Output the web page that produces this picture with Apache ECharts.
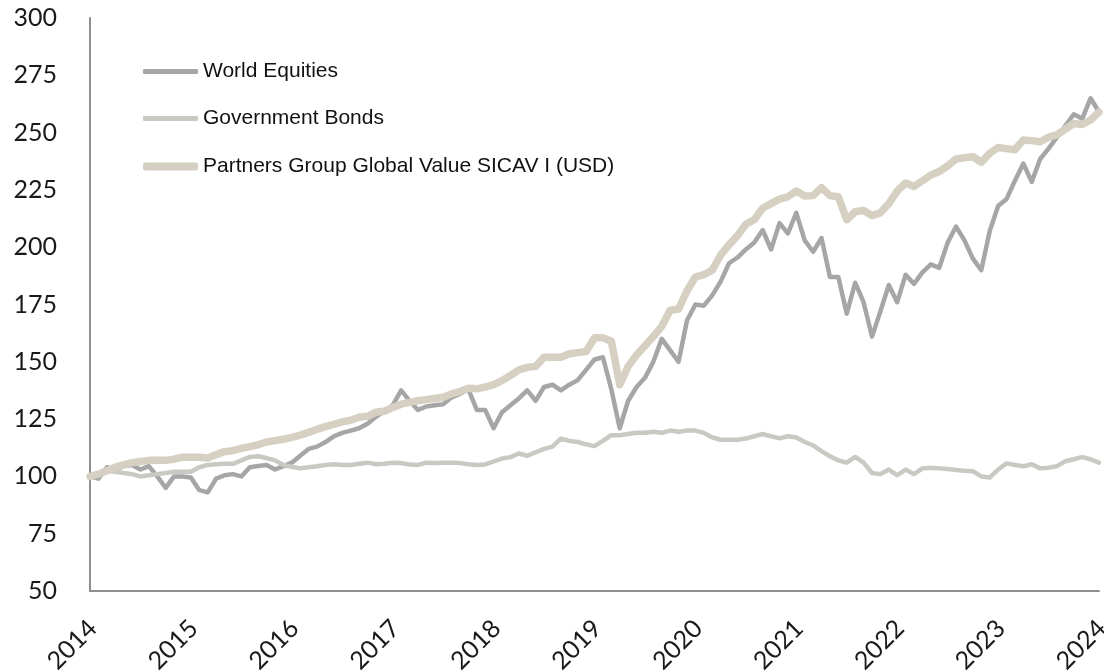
<!DOCTYPE html>
<html>
<head>
<meta charset="utf-8">
<script src="https://cdn.jsdelivr.net/npm/echarts@6/dist/echarts.min.js"></script>
<style>
html,body{margin:0;padding:0;background:#fff;}
#chart{width:1104px;height:672px;}
</style>
</head>
<body>
<div id="chart"></div>
<script>
// Tick labels (years) and monthly categories
const years = ['2014','2015','2016','2017','2018','2019','2020','2021','2022','2023','2024'];
const monthNames = ['01','02','03','04','05','06','07','08','09','10','11','12'];
const categories = [];
for (let y = 0; y < years.length - 1; y++) {
  for (const m of monthNames) categories.push(years[y] + '-' + m);
}
categories.push(years[years.length - 1] + '-01');

const seriesNames = ['World Equities', 'Government Bonds', 'Partners Group Global Value SICAV I (USD)'];

const worldEquities = [
  100, 99, 104, 103, 104.5, 105, 103, 104.5, 100, 95, 100, 100,
  99.5, 94, 93, 99, 100.5, 101, 100, 104, 104.5, 105, 103, 104.5,
  106, 109, 112, 113, 115, 117.5, 119, 120, 121, 123, 126, 128.5,
  131, 137.5, 133, 129, 130.5, 131, 131.5, 134.5, 136, 138, 129, 129,
  121, 128, 131, 134, 137.5, 133, 139, 140, 137.5, 140, 142, 146.5,
  151, 152, 138, 121, 133, 139, 143, 150, 160, 155, 150, 168,
  175, 174.5, 179, 185, 193, 195.5, 199, 202, 207.5, 199, 210.5, 206,
  215, 203, 198, 204, 187, 187, 171, 184.5, 176, 161, 172, 183.5,
  176, 188, 184, 189, 192.5, 191, 202, 209, 203, 195, 190, 207,
  218, 221, 229, 236.5, 228.5, 238.5, 243, 248, 253, 258, 256, 265,
  259
];

const governmentBonds = [
  100, 101, 102.5, 102, 101.5, 101, 100, 100.5, 101, 101.5, 102, 102,
  102, 104, 105, 105.3, 105.5, 105.5, 107, 108.5, 108.8, 108, 107, 105,
  104.2, 103.5, 104, 104.4, 105, 105.3, 105, 105, 105.5, 106, 105.3, 105.5,
  106, 105.8, 105.2, 105, 106, 105.8, 106, 106, 105.8, 105.3, 105, 105.2,
  106.5, 107.8, 108.4, 110, 109, 110.5, 112, 113, 116.5, 115.5, 115, 114,
  113.2, 115.5, 118, 118, 118.5, 119, 119, 119.5, 119, 120, 119.5, 120,
  120, 119, 117, 116, 116, 116, 116.5, 117.5, 118.5, 117.5, 116.6, 117.5,
  117, 115, 113.5, 111, 108.8, 107, 106, 108.5, 106, 101.5, 101, 103,
  100.5, 103, 101, 103.5, 103.8, 103.5, 103.2, 102.8, 102.5, 102.3, 100, 99.5,
  103, 105.7, 105, 104.4, 105.3, 103.5, 103.8, 104.5, 106.6, 107.5, 108.4, 107.5,
  106
];

const partnersGroup = [
  100, 101, 102.5, 104, 105, 106, 106.5, 107, 107, 107, 107.5, 108.4,
  108.4, 108.4, 108, 109.5, 110.8, 111.2, 112.2, 113, 113.8, 115, 115.6, 116.2,
  117, 118, 119.2, 120.5, 121.7, 122.7, 123.8, 124.5, 125.8, 126.2, 128, 128.4,
  130, 131.5, 132.3, 133, 133.5, 134, 134.5, 136, 137, 138.5, 138.2, 139,
  140, 141.8, 144, 146.5, 147.6, 148, 152, 152, 152, 153.5, 154, 154.5,
  160.5, 160.5, 159, 140, 148, 153, 157, 161, 165.5, 172.5, 173, 181,
  187, 188, 190, 196.5, 201, 205, 210, 212, 217, 219, 221, 222,
  224.5, 222.3, 222.5, 226, 222.5, 222, 212, 215.5, 216, 213.8, 215, 219,
  224.5, 228, 226.5, 229, 231.5, 233, 235.5, 238.5, 239, 239.5, 237, 241,
  243.5, 243, 242.5, 246.8, 246.5, 246, 248, 249, 251.5, 254, 253.5, 255.5,
  259
];

const colors = ['#a6a6a6', '#c8c9c3', '#d6d0c3'];
const widths = [4.5, 4.5, 7.5];
const dataSets = [worldEquities, governmentBonds, partnersGroup];

const chart = echarts.init(document.getElementById('chart'), null, {renderer: 'canvas'});

const legendTops = [61, 108, 156];
const legends = seriesNames.map((n, i) => ({
  data: [n],
  left: 143,
  top: legendTops[i],
  padding: 0,
  orient: 'vertical',
  icon: 'roundRect',
  itemWidth: 55,
  itemHeight: widths[i] + 0.5,
  textStyle: {fontFamily: 'Liberation Sans, Arial', fontSize: 21, color: '#111'},
  selectedMode: false
}));

const option = {
  animation: false,
  backgroundColor: '#ffffff',
  color: colors,
  legend: legends,
  grid: {left: 90, right: 5, top: 18, bottom: 81, containLabel: false, outerBoundsMode: 'none'},
  xAxis: {
    type: 'category',
    data: categories,
    boundaryGap: false,
    axisLine: {show: true, lineStyle: {color: '#8e8e8e', width: 2}},
    axisTick: {show: false},
    axisLabel: {
      interval: (idx) => idx % 12 === 0,
      formatter: (v) => v.slice(0, 4),
      rotate: 45,
      margin: 36,
      padding: [0, -4, 0, 0],
      fontFamily: 'Lato',
      fontSize: 25,
      color: '#1a1a1a'
    },
    splitLine: {show: false}
  },
  yAxis: {
    type: 'value',
    min: 50,
    max: 300,
    interval: 25,
    axisLine: {show: true, lineStyle: {color: '#8e8e8e', width: 2}},
    axisTick: {show: false},
    splitLine: {show: false},
    axisLabel: {
      margin: 33,
      fontFamily: 'Lato',
      fontSize: 25,
      color: '#1a1a1a'
    }
  },
  series: seriesNames.map((n, i) => ({
    name: n,
    type: 'line',
    data: dataSets[i],
    showSymbol: false,
    symbol: 'none',
    smooth: false,
    lineStyle: {color: colors[i], width: widths[i], join: 'round', cap: 'round'},
    itemStyle: {color: colors[i]},
    z: 2 + i
  }))
};
chart.setOption(option);
</script>
</body>
</html>
